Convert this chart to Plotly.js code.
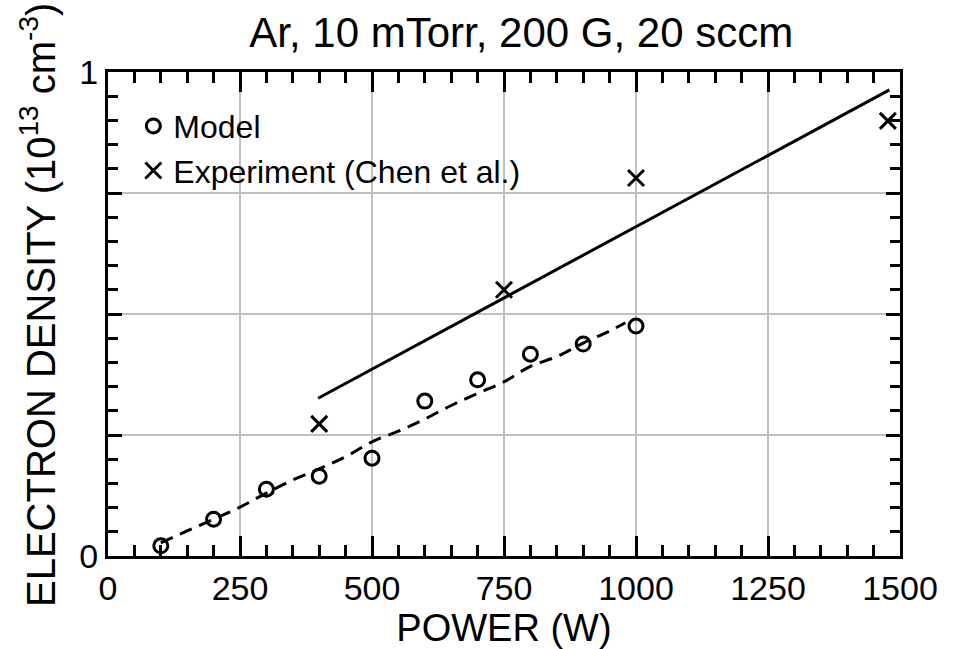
<!DOCTYPE html>
<html>
<head>
<meta charset="utf-8">
<script src="https://cdn.plot.ly/plotly-3.0.1.min.js"></script>
<style>html,body{margin:0;padding:0;background:#fff;}#chart{width:953px;height:649px;}</style>
</head>
<body>
<div id="chart"></div>
<script>
// Model points
const modelPower = [100, 200, 300, 400, 500, 600, 700, 800, 900, 1000];
const modelDensity = [0.021, 0.076, 0.138, 0.165, 0.202, 0.320, 0.364, 0.417, 0.438, 0.475];
// Dashed fit through model
const fitPower = [100, 150, 200, 250, 300, 350, 400, 450, 500, 550, 600, 650, 700, 750, 800, 850, 900, 950, 980];
const fitDensity = [0.027, 0.052, 0.076, 0.101, 0.130, 0.157, 0.180, 0.205, 0.236, 0.258, 0.283, 0.311, 0.336, 0.360, 0.392, 0.412, 0.440, 0.465, 0.482];
// Experiment points (Chen et al.)
const expPower = [400, 750, 1000, 1477];
const expDensity = [0.273, 0.550, 0.781, 0.899];
// Solid fit through experiment
const expFitPower = [398, 1480];
const expFitDensity = [0.326, 0.963];

const xTicks = [0, 250, 500, 750, 1000, 1250, 1500];
const yTicks = [0, 0.25, 0.5, 0.75, 1];
const yTickText = ['0', '', '', '', '1'];
const yTitle = 'ELECTRON DENSITY (10<sup>13</sup> cm<sup>-3</sup>)';

const FONT = 'Liberation Sans, Arial, sans-serif';

const traces = [
  {x: fitPower, y: fitDensity, mode: 'lines', line: {color: '#000', width: 3, dash: '13px,8px', shape: 'spline'}, showlegend: false, hoverinfo: 'skip'},
  {x: expFitPower, y: expFitDensity, mode: 'lines', line: {color: '#000', width: 3}, showlegend: false, hoverinfo: 'skip'},
  {x: modelPower, y: modelDensity, mode: 'markers', name: 'Model',
   marker: {symbol: 'circle-open', size: 14, color: '#000', line: {width: 3, color: '#000'}}},
  {x: expPower, y: expDensity, mode: 'markers', name: 'Experiment (Chen et al.)',
   marker: {symbol: 'x-thin-open', size: 16, color: '#000', line: {width: 3, color: '#000'}}}
];

const layout = {
  width: 953, height: 649,
  margin: {l: 108, r: 53, t: 72, b: 93, pad: 0},
  paper_bgcolor: '#fff', plot_bgcolor: '#fff',
  font: {family: FONT, color: '#000', size: 34},
  title: {text: 'Ar, 10 mTorr, 200 G, 20 sccm', font: {size: 42, family: FONT, color: '#000'},
          x: 0.547, xanchor: 'center', y: 0.95, yanchor: 'middle'},
  xaxis: {
    range: [0, 1500], tickvals: xTicks, ticktext: xTicks.map(String),
    showgrid: true, gridcolor: '#c0c0c0', gridwidth: 2, zeroline: false,
    showline: true, linecolor: '#000', linewidth: 3, mirror: 'ticks',
    ticks: 'inside', ticklen: 20, tickwidth: 3, tickcolor: '#000',
    tickfont: {size: 34, family: FONT},
    minor: {dtick: 50, tick0: 0, ticks: 'inside', ticklen: 11, tickwidth: 3, tickcolor: '#000', showgrid: false},
    title: {text: 'POWER (W)', font: {size: 38, family: FONT}, standoff: 0}
  },
  yaxis: {
    range: [0, 1], tickvals: yTicks, ticktext: yTickText,
    showgrid: true, gridcolor: '#c0c0c0', gridwidth: 2, zeroline: false,
    showline: true, linecolor: '#000', linewidth: 3, mirror: 'ticks',
    ticks: 'inside', ticklen: 14, tickwidth: 3, tickcolor: '#000',
    tickfont: {size: 34, family: FONT},
    minor: {dtick: 0.05, tick0: 0, ticks: 'inside', ticklen: 10, tickwidth: 3, tickcolor: '#000', showgrid: false}
  },
  annotations: [{
    text: yTitle, xref: 'paper', yref: 'paper', x: -0.0884, y: 0.5186,
    xanchor: 'center', yanchor: 'middle', textangle: -90, showarrow: false,
    font: {size: 40, family: FONT, color: '#000'}
  }],
  showlegend: true,
  legend: {x: 0.032, y: 0.945, xanchor: 'left', yanchor: 'top', bgcolor: 'rgba(0,0,0,0)',
           font: {size: 32, family: FONT, color: '#000'}, tracegroupgap: 0, itemwidth: 30}
};

Plotly.newPlot('chart', traces, layout, {displayModeBar: false, staticPlot: true});
</script>
</body>
</html>
